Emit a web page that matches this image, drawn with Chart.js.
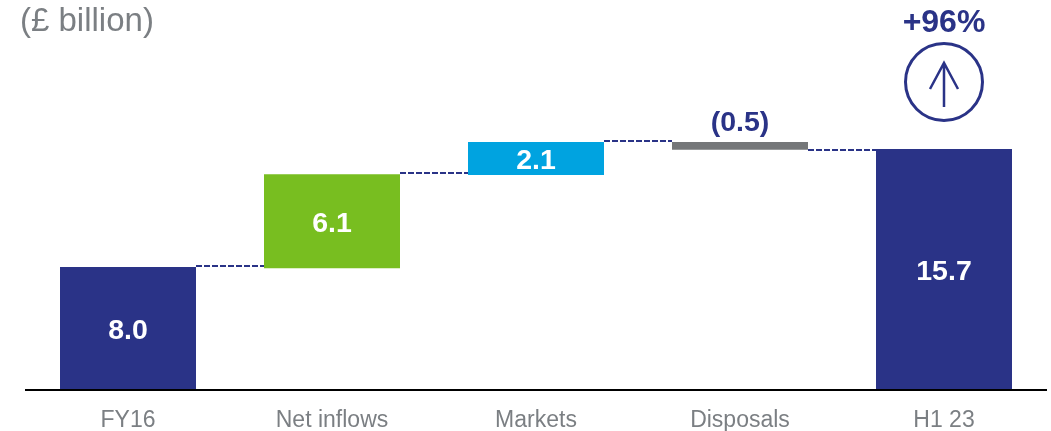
<!DOCTYPE html>
<html lang="en">
<head>
<meta charset="UTF-8">
<title>Waterfall (£ billion)</title>
<style>
  body {
    margin: 0;
    padding: 0;
    background: #fff;
    overflow: hidden;
  }

  .unit {
    position: absolute;
    left: 20px;
    top: 0;
    font-family: "Liberation Sans", Arial, sans-serif;
    font-size: 33px;
    line-height: 40px;
    color: #7b7f83;
  }

  canvas {
    display: block;
  }
</style>
<script src="https://cdn.jsdelivr.net/npm/chart.js"></script>
</head>
<body>

<div class="unit">(£ billion)</div>
<canvas id="chart-bridge" width="1051" height="431"></canvas>

<script>
const categories = ['FY16', 'Net inflows', 'Markets', 'Disposals', 'H1 23'];
const barLows = [0, 7.9, 14.0, 15.65, 0];
const barHighs = [7.98, 14.05, 16.15, 16.15, 15.7];
const valueLabels = ['8.0', '6.1', '2.1', '(0.5)', '15.7'];
const connectorLevels = [8.05, 14.15, 16.2, 15.65];
const barColors = ['#2a3387', '#78be20', '#00a3e0', '#757779', '#2a3387'];
const changeLabel = '+96%';

const NAVY = '#2a3387';
const FONT = '"Liberation Sans", Arial, sans-serif';

// dashed links, value labels and the +96% badge
const bridgeExtras = {
  id: 'bridgeExtras',
  afterDatasetsDraw(chart) {
    const ctx = chart.ctx;
    const y = chart.scales.y;
    const bars = chart.getDatasetMeta(0).data;

    ctx.save();

    ctx.strokeStyle = NAVY;
    ctx.lineWidth = 2;
    ctx.setLineDash([6, 2]);
    connectorLevels.forEach(function(level, i) {
      const py = Math.round(y.getPixelForValue(level));
      ctx.beginPath();
      ctx.moveTo(bars[i].x + bars[i].width / 2, py);
      ctx.lineTo(bars[i + 1].x - bars[i + 1].width / 2, py);
      ctx.stroke();
    });
    ctx.setLineDash([]);

    ctx.textAlign = 'center';
    ctx.textBaseline = 'middle';
    ctx.font = 'bold 28.5px ' + FONT;
    valueLabels.forEach(function(label, i) {
      const top = y.getPixelForValue(barHighs[i]);
      const bottom = y.getPixelForValue(barLows[i]);
      if (bottom - top < 20) {
        // bar too thin, label sits above it
        ctx.fillStyle = NAVY;
        ctx.fillText(label, bars[i].x, top - 19);
      } else {
        ctx.fillStyle = '#fff';
        ctx.fillText(label, bars[i].x, (top + bottom) / 2 + 3);
      }
    });

    const last = bars[bars.length - 1];
    ctx.fillStyle = NAVY;
    ctx.font = 'bold 32px ' + FONT;
    ctx.fillText(changeLabel, last.x, 23);

    ctx.strokeStyle = NAVY;
    ctx.lineWidth = 3;
    ctx.beginPath();
    ctx.arc(last.x, 82, 38.5, 0, Math.PI * 2);
    ctx.stroke();

    ctx.lineWidth = 2.5;
    ctx.beginPath();
    ctx.moveTo(last.x, 107);
    ctx.lineTo(last.x, 63);
    ctx.moveTo(last.x - 14, 89);
    ctx.lineTo(last.x, 63);
    ctx.lineTo(last.x + 14, 89);
    ctx.stroke();

    ctx.restore();
  }
};

new Chart(document.getElementById('chart-bridge').getContext('2d'), {
  type: 'bar',
  data: {
    labels: categories,
    datasets: [{
      data: categories.map(function(c, i) { return [barLows[i], barHighs[i]]; }),
      backgroundColor: barColors,
      borderWidth: 0,
      borderSkipped: false,
      barPercentage: 136 / 204,
      categoryPercentage: 1
    }]
  },
  options: {
    responsive: false,
    animation: false,
    layout: {
      padding: { left: 26, right: 5, top: 0, bottom: 0 }
    },
    plugins: {
      legend: { display: false },
      tooltip: { enabled: false }
    },
    scales: {
      x: {
        afterFit(scale) { scale.height = 41; },
        grid: { display: false, drawTicks: false },
        border: { display: true, color: '#000', width: 2 },
        ticks: {
          padding: 17,
          maxRotation: 0,
          autoSkip: false,
          color: '#7b7f83',
          font: { family: FONT, size: 23 }
        }
      },
      y: {
        display: false,
        min: -0.07,
        max: 25.44
      }
    }
  },
  plugins: [bridgeExtras]
});
</script>
</body>
</html>
